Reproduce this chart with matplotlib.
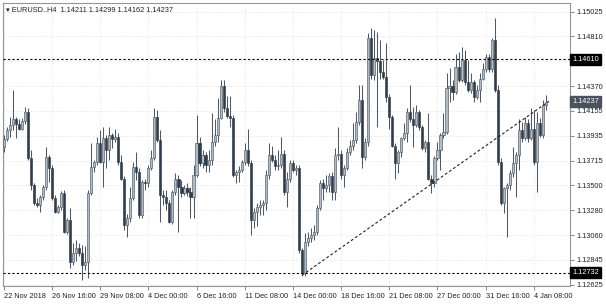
import matplotlib
matplotlib.use('Agg')
import matplotlib.pyplot as plt
import matplotlib.transforms as mtransforms
import numpy as np

plt.rcParams['font.family'] = ['Liberation Sans', 'DejaVu Sans']

# ---- data: EURUSD H4 candles (22 Nov 2018 .. 4 Jan 2019) ----
opens = [
    1.1384, 1.1391, 1.1399, 1.1403, 1.1408, 1.1404, 1.1400, 1.1407, 1.1415, 1.1374,
    1.1350, 1.1335, 1.1333, 1.1340, 1.1349, 1.1375, 1.1365, 1.1339, 1.1327, 1.1331,
    1.1343, 1.1309, 1.1320, 1.1283, 1.1291, 1.1295, 1.1291, 1.1280, 1.1283, 1.1343,
    1.1366, 1.1371, 1.1387, 1.1371, 1.1392, 1.1381, 1.1394, 1.1391, 1.1393, 1.1371,
    1.1356, 1.1315, 1.1321, 1.1339, 1.1366, 1.1362, 1.1324, 1.1353, 1.1352, 1.1365,
    1.1374, 1.1410, 1.1390, 1.1342, 1.1340, 1.1335, 1.1318, 1.1344, 1.1356, 1.1349,
    1.1343, 1.1348, 1.1344, 1.1340, 1.1359, 1.1387, 1.1370, 1.1377, 1.1368, 1.1372,
    1.1388, 1.1394, 1.1409, 1.1437, 1.1418, 1.1411, 1.1409, 1.1359, 1.1362, 1.1364,
    1.1371, 1.1381, 1.1370, 1.1320, 1.1327, 1.1331, 1.1333, 1.1335, 1.1359, 1.1377,
    1.1372, 1.1367, 1.1368, 1.1378, 1.1344, 1.1356, 1.1370, 1.1364, 1.1365, 1.1293,
    1.1273, 1.1300, 1.1304, 1.1306, 1.1309, 1.1330, 1.1352, 1.1348, 1.1350, 1.1358,
    1.1344, 1.1377, 1.1378, 1.1359, 1.1365, 1.1379, 1.1385, 1.1390, 1.1406, 1.1425,
    1.1375, 1.1388, 1.1480, 1.1447, 1.1462, 1.1459, 1.1450, 1.1445, 1.1428, 1.1410,
    1.1385, 1.1370, 1.1379, 1.1392, 1.1396, 1.1415, 1.1408, 1.1403, 1.1415, 1.1401,
    1.1383, 1.1388, 1.1356, 1.1352, 1.1374, 1.1381, 1.1394, 1.1397, 1.1436, 1.1437,
    1.1432, 1.1454, 1.1443, 1.1460, 1.1441, 1.1434, 1.1441, 1.1428, 1.1434, 1.1444,
    1.1452, 1.1463, 1.1452, 1.1478, 1.1434, 1.1371, 1.1335, 1.1348, 1.1350, 1.1361,
    1.1370, 1.1377, 1.1399, 1.1392, 1.1405, 1.1392, 1.1400, 1.1371, 1.1405, 1.1394,
    1.14211,
]
highs = [
    1.1394, 1.1401, 1.1410, 1.1434, 1.1410, 1.1408, 1.1409, 1.1419, 1.1418, 1.1381,
    1.1352, 1.1339, 1.1342, 1.1350, 1.1384, 1.1377, 1.1368, 1.1342, 1.1333, 1.1345,
    1.1346, 1.1321, 1.1330, 1.1299, 1.1302, 1.1299, 1.1298, 1.1297, 1.1346, 1.1387,
    1.1372, 1.1393, 1.1399, 1.1401, 1.1394, 1.1401, 1.1396, 1.1400, 1.1396, 1.1377,
    1.1358, 1.1325, 1.1349, 1.1371, 1.1379, 1.1365, 1.1355, 1.1356, 1.1368, 1.1381,
    1.1418, 1.1416, 1.1399, 1.1346, 1.1346, 1.1337, 1.1346, 1.1361, 1.1359, 1.1355,
    1.1350, 1.1352, 1.1349, 1.1368, 1.1412, 1.1393, 1.1381, 1.1379, 1.1381, 1.1414,
    1.1408, 1.1427, 1.1443, 1.1443, 1.1429, 1.1429, 1.1412, 1.1364, 1.1367, 1.1372,
    1.1387, 1.1400, 1.1372, 1.1330, 1.1335, 1.1337, 1.1337, 1.1364, 1.1387, 1.1385,
    1.1377, 1.1381, 1.1393, 1.1381, 1.1362, 1.1372, 1.1372, 1.1368, 1.1368, 1.1295,
    1.1308, 1.1309, 1.1313, 1.1315, 1.1333, 1.1355, 1.1356, 1.1359, 1.1361, 1.1362,
    1.1383, 1.1401, 1.1381, 1.1368, 1.1383, 1.1390, 1.1405, 1.1415, 1.1438, 1.1438,
    1.1392, 1.1484, 1.1488, 1.1487, 1.1485, 1.1478, 1.1460, 1.1475, 1.1430, 1.1412,
    1.1387, 1.1381, 1.1393, 1.1405, 1.1418, 1.1438, 1.1419, 1.1421, 1.1416, 1.1403,
    1.1390, 1.1414, 1.1359, 1.1376, 1.1388, 1.1396, 1.1414, 1.1449, 1.1453, 1.1443,
    1.1466, 1.1467, 1.1472, 1.1469, 1.1460, 1.1449, 1.1443, 1.1438, 1.1449, 1.1458,
    1.1466, 1.1466, 1.1480, 1.1497, 1.1438, 1.1374, 1.1349, 1.1352, 1.1364, 1.1384,
    1.1379, 1.1408, 1.1406, 1.1410, 1.1408, 1.1418, 1.1416, 1.1415, 1.1409, 1.1425,
    1.14299,
]
lows = [
    1.1379, 1.1389, 1.1393, 1.1399, 1.1392, 1.1399, 1.1399, 1.1404, 1.1372, 1.1346,
    1.1333, 1.1331, 1.1327, 1.1337, 1.1346, 1.1353, 1.1337, 1.1326, 1.1326, 1.1328,
    1.1308, 1.1307, 1.1277, 1.1280, 1.1284, 1.1288, 1.1267, 1.1276, 1.1269, 1.1342,
    1.1362, 1.1368, 1.1370, 1.1349, 1.1365, 1.1372, 1.1383, 1.1388, 1.1368, 1.1355,
    1.1311, 1.1305, 1.1318, 1.1337, 1.1355, 1.1321, 1.1321, 1.1346, 1.1349, 1.1364,
    1.1372, 1.1388, 1.1318, 1.1333, 1.1328, 1.1317, 1.1316, 1.1342, 1.1309, 1.1340,
    1.1342, 1.1341, 1.1321, 1.1321, 1.1357, 1.1367, 1.1365, 1.1362, 1.1362, 1.1368,
    1.1385, 1.1388, 1.1408, 1.1415, 1.1409, 1.1401, 1.1357, 1.1352, 1.1353, 1.1362,
    1.1368, 1.1367, 1.1306, 1.1313, 1.1314, 1.1324, 1.1324, 1.1328, 1.1356, 1.1371,
    1.1364, 1.1364, 1.1365, 1.1342, 1.1331, 1.1353, 1.1362, 1.1359, 1.1291, 1.1270,
    1.1270, 1.1297, 1.1300, 1.1302, 1.1306, 1.1328, 1.1337, 1.1344, 1.1344, 1.1337,
    1.1337, 1.1372, 1.1356, 1.1349, 1.1364, 1.1377, 1.1381, 1.1387, 1.1403, 1.1365,
    1.1372, 1.1385, 1.1444, 1.1443, 1.1401, 1.1444, 1.1444, 1.1423, 1.1400, 1.1384,
    1.1356, 1.1361, 1.1375, 1.1390, 1.1388, 1.1406, 1.1384, 1.1401, 1.1399, 1.1381,
    1.1379, 1.1355, 1.1343, 1.1349, 1.1372, 1.1364, 1.1392, 1.1395, 1.1423, 1.1425,
    1.1430, 1.1441, 1.1441, 1.1438, 1.1432, 1.1431, 1.1423, 1.1426, 1.1423, 1.1443,
    1.1450, 1.1450, 1.1450, 1.1432, 1.1368, 1.1333, 1.1326, 1.1305, 1.1346, 1.1357,
    1.1340, 1.1364, 1.1388, 1.1390, 1.1388, 1.1390, 1.1368, 1.1344, 1.1393, 1.1392,
    1.14162,
]
closes = [
    1.1391, 1.1399, 1.1403, 1.1408, 1.1404, 1.1400, 1.1407, 1.1415, 1.1374, 1.1350,
    1.1335, 1.1333, 1.1340, 1.1349, 1.1375, 1.1365, 1.1339, 1.1327, 1.1331, 1.1343,
    1.1309, 1.1320, 1.1283, 1.1291, 1.1295, 1.1291, 1.1280, 1.1283, 1.1343, 1.1366,
    1.1371, 1.1387, 1.1371, 1.1392, 1.1381, 1.1394, 1.1391, 1.1393, 1.1371, 1.1356,
    1.1315, 1.1321, 1.1339, 1.1366, 1.1362, 1.1324, 1.1353, 1.1352, 1.1365, 1.1374,
    1.1410, 1.1390, 1.1342, 1.1340, 1.1335, 1.1318, 1.1344, 1.1356, 1.1349, 1.1343,
    1.1348, 1.1344, 1.1340, 1.1359, 1.1387, 1.1370, 1.1377, 1.1368, 1.1372, 1.1388,
    1.1394, 1.1409, 1.1437, 1.1418, 1.1411, 1.1409, 1.1359, 1.1362, 1.1364, 1.1371,
    1.1381, 1.1370, 1.1320, 1.1327, 1.1331, 1.1333, 1.1335, 1.1359, 1.1377, 1.1372,
    1.1367, 1.1368, 1.1378, 1.1344, 1.1356, 1.1370, 1.1364, 1.1365, 1.1293, 1.1273,
    1.1300, 1.1304, 1.1306, 1.1309, 1.1330, 1.1352, 1.1348, 1.1350, 1.1358, 1.1344,
    1.1377, 1.1378, 1.1359, 1.1365, 1.1379, 1.1385, 1.1390, 1.1406, 1.1425, 1.1375,
    1.1388, 1.1480, 1.1447, 1.1462, 1.1459, 1.1450, 1.1445, 1.1428, 1.1410, 1.1385,
    1.1370, 1.1379, 1.1392, 1.1396, 1.1415, 1.1408, 1.1403, 1.1415, 1.1401, 1.1383,
    1.1388, 1.1356, 1.1352, 1.1374, 1.1381, 1.1394, 1.1397, 1.1436, 1.1437, 1.1432,
    1.1454, 1.1443, 1.1460, 1.1441, 1.1434, 1.1441, 1.1428, 1.1434, 1.1444, 1.1452,
    1.1463, 1.1452, 1.1478, 1.1434, 1.1371, 1.1335, 1.1348, 1.1350, 1.1361, 1.1370,
    1.1377, 1.1399, 1.1392, 1.1405, 1.1392, 1.1400, 1.1371, 1.1405, 1.1394, 1.1421,
    1.14237,
]

x_tick_labels = ['22 Nov 2018', '26 Nov 16:00', '29 Nov 08:00', '4 Dec 00:00',
                 '6 Dec 16:00', '11 Dec 08:00', '14 Dec 00:00', '18 Dec 16:00',
                 '21 Dec 08:00', '27 Dec 00:00', '31 Dec 16:00', '4 Jan 08:00']
bars_per_label = 16
y_tick_values = [1.15025, 1.14810, 1.14590, 1.14370, 1.14155, 1.13935, 1.13715,
                 1.13500, 1.13280, 1.13060, 1.12845, 1.12625]
resistance = 1.14610
support = 1.12732
trend_start = (99, 1.1271)
trend_end = (181, 1.1424)
title = '\u25be EURUSD..H4  1.14211 1.14299 1.14162 1.14237'

# ---- figure ----
W, H = 606, 305
fig = plt.figure(figsize=(W / 100, H / 100), dpi=100)
fig.patch.set_facecolor('white')
left, right, top, bottom = 3, 570, 3, 286
ax = fig.add_axes([left / W, (H - bottom) / H, (right - left) / W, (bottom - top) / H])
ax.set_facecolor('white')

o = np.array(opens); h = np.array(highs); l = np.array(lows); c = np.array(closes)
idx = np.arange(len(c))
up = c >= o

wick_col = '#4f5964'
ax.vlines(idx, l, h, color=wick_col, lw=0.75, zorder=2)
body_lo = np.minimum(o, c)
body_h = np.abs(c - o)
ax.bar(idx[up], body_h[up], bottom=body_lo[up], width=0.7,
       color='#b2bac4', edgecolor='#4f5964', linewidth=0.45, zorder=3)
ax.bar(idx[~up], body_h[~up], bottom=body_lo[~up], width=0.7,
       color='#313c48', edgecolor='#313c48', linewidth=0.45, zorder=3)

ax.set_xlim(-0.25, 188.0)
ax.set_ylim(1.12616, 1.15104)

# ticks and grid
xt = [k * bars_per_label for k in range(len(x_tick_labels))]
ax.set_xticks(xt)
ax.set_xticklabels(x_tick_labels, ha='left')
ax.set_yticks(y_tick_values)
# the 1.14590 label sits under the 1.14610 level box, so it is left blank
ax.set_yticklabels(['' if abs(v - resistance) < 0.0003 else f'{v:.5f}'
                    for v in y_tick_values])
ax.grid(True, color='#d6dbe0', linestyle=(0, (1, 2)), linewidth=0.6, zorder=0)
ax.set_axisbelow(True)

ax.yaxis.tick_right()
ax.tick_params(axis='y', direction='out', length=3, width=0.6, color='#777777',
               pad=1.5, labelsize=5.3, labelcolor='#222222')
ax.tick_params(axis='x', direction='out', length=3, width=0.6, color='#777777',
               pad=2, labelsize=5.3, labelcolor='#222222')
for lab in ax.get_xticklabels():
    lab.set_horizontalalignment('left')

for sp in ax.spines.values():
    sp.set_color('#8e959c')
    sp.set_linewidth(0.8)

# horizontal levels and trendline
ax.axhline(resistance, color='black', lw=0.8, linestyle=(0, (2, 2)), zorder=4)
ax.axhline(support, color='black', lw=0.8, linestyle=(0, (2, 2)), zorder=4)
ax.plot([trend_start[0], trend_end[0]], [trend_start[1], trend_end[1]],
        color='#222222', lw=0.8, linestyle=(0, (2.5, 2)), zorder=4)

# price boxes on the right axis
trans = mtransforms.blended_transform_factory(ax.transAxes, ax.transData)
for val, fc in [(resistance, 'black'), (support, 'black'), (closes[-1], '#4a535d')]:
    ax.text(1.004, val, f'{val:.5f}', transform=trans, ha='left', va='center',
            fontsize=5.3, color='white', clip_on=False, zorder=10,
            bbox=dict(boxstyle='square,pad=0.25', fc=fc, ec=fc))

# title
ax.text(0.005, 0.972, title, transform=ax.transAxes, ha='left', va='center',
        fontsize=5.3, color='#222222', zorder=10)

fig.savefig('out.png', dpi=100, facecolor='white')
